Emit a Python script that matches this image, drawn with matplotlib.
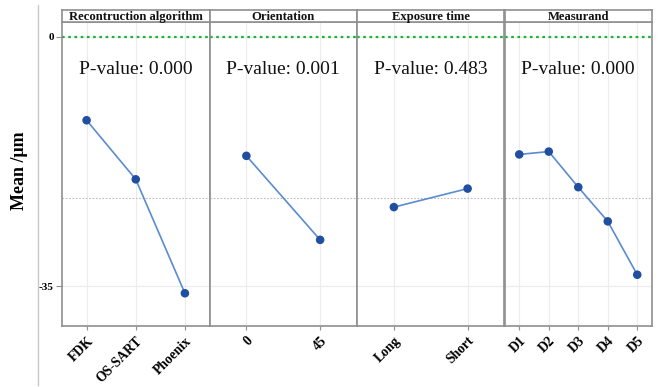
import matplotlib
matplotlib.use("Agg")
import matplotlib.pyplot as plt
from matplotlib.lines import Line2D

# Main-effects data: mean deviation (µm) for each factor level
factors = ["Recontruction algorithm", "Orientation", "Exposure time", "Measurand"]
levels_recon = ["FDK", "OS-SART", "Phoenix"]
means_recon = [-11.7, -20.0, -36.0]
levels_orient = ["0", "45"]
means_orient = [-16.7, -28.5]
levels_exposure = ["Long", "Short"]
means_exposure = [-23.9, -21.3]
levels_measurand = ["D1", "D2", "D3", "D4", "D5"]
means_measurand = [-16.5, -16.1, -21.1, -25.9, -33.4]
p_values = ["0.000", "0.001", "0.483", "0.000"]
grand_mean = -22.6
reference_value = 0
y_ticks = [0, -35]

panels = [
    (levels_recon, means_recon),
    (levels_orient, means_orient),
    (levels_exposure, means_exposure),
    (levels_measurand, means_measurand),
]

W, H = 659, 387
fig = plt.figure(figsize=(W / 100, H / 100), dpi=100)
fig.patch.set_facecolor("white")

serif = ["Liberation Serif", "DejaVu Serif"]
frame_col = "#8f8f8f"
line_col = "#5b8bd0"
point_col = "#1f4f9e"

x_left, x_right = 62, 652
y_top_strip, y_top, y_bottom = 10, 22, 326
pw = (x_right - x_left) / len(panels)


def fig_rect(x0, y0, x1, y1):
    return [x0 / W, (H - y1) / H, (x1 - x0) / W, (y1 - y0) / H]


# Thin vertical rule at the left edge of the figure
fig.add_artist(Line2D([38 / W, 38 / W], [2 / H, (H - 5) / H], color="#c8c8c8", lw=1.0))

for i, ((labels, vals), title, pv) in enumerate(zip(panels, factors, p_values)):
    x0 = x_left + i * pw
    x1 = x0 + pw
    ax = fig.add_axes(fig_rect(x0, y_top, x1, y_bottom))
    n = len(labels)
    xs = list(range(n))
    ax.set_xlim(-0.5, n - 0.5)
    ax.set_ylim(-40.6, 2.1)

    # background grid
    for xv in xs:
        ax.axvline(xv, color="#ececec", lw=0.8, zorder=0)
    for yv in y_ticks:
        ax.axhline(yv, color="#ececec", lw=0.8, zorder=0)

    ax.axhline(reference_value, color="#1db33a", lw=1.6, ls=(0, (1.2, 1.6)), zorder=2)
    ax.axhline(grand_mean, color="#bdbdbd", lw=0.8, ls=(0, (1.5, 1.5)), zorder=1)

    ax.plot(xs, vals, color=line_col, lw=1.2, zorder=3)
    ax.scatter(xs, vals, s=38, color=point_col, zorder=4, edgecolors="none")

    ax.text(0.5, 0.845, f"P-value: {pv}", transform=ax.transAxes, ha="center",
            va="center", fontsize=14, family=serif, color="#111111")

    ax.set_xticks(xs)
    ax.set_xticklabels(labels, rotation=45, ha="right", rotation_mode="anchor",
                       family=serif, fontweight="bold", fontsize=9.8)
    ax.tick_params(axis="x", length=3, color=frame_col, pad=3)
    if i == 0:
        ax.set_yticks(y_ticks)
        ax.set_yticklabels([str(v) for v in y_ticks], family=serif,
                           fontweight="bold", fontsize=8)
        ax.tick_params(axis="y", length=4, color=frame_col, pad=2)
    else:
        ax.set_yticks([])
    for sp in ax.spines.values():
        sp.set_color(frame_col)
        sp.set_linewidth(1.2)

    # strip header
    sax = fig.add_axes(fig_rect(x0, y_top_strip, x1, y_top))
    sax.set_xticks([])
    sax.set_yticks([])
    for sp in sax.spines.values():
        sp.set_color(frame_col)
        sp.set_linewidth(1.2)
    sax.text(0.5, 0.42, title, transform=sax.transAxes, ha="center", va="center",
             family=serif, fontweight="bold", fontsize=9.1, color="#111111")

fig.text(19 / W, 1 - 171 / H, "Mean /\u03bcm", rotation=90, ha="center", va="center",
         family=serif, fontweight="bold", fontsize=13)

fig.savefig("out.png", dpi=100, facecolor="white")
